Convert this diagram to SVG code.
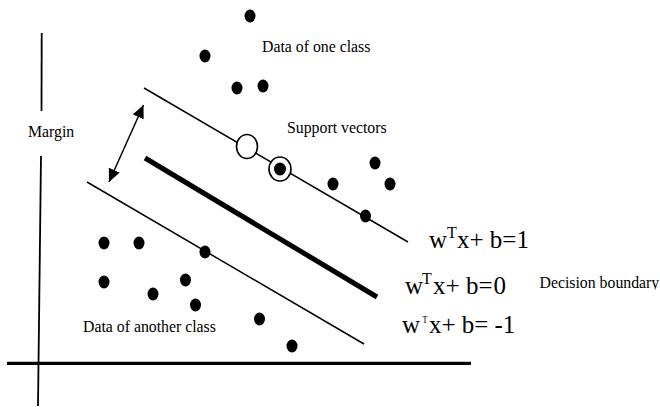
<svg xmlns="http://www.w3.org/2000/svg" width="660" height="407" viewBox="0 0 660 407">
<style>
  .lbl { font-family: "Liberation Serif", "Times New Roman", serif; font-size: 15.8px; fill: #000; }
  .eq { font-family: "Liberation Serif", "Times New Roman", serif; font-size: 25px; fill: #000; }
  .sup { font-family: "Liberation Serif", "Times New Roman", serif; font-size: 16px; fill: #000; }
  .thin { stroke: #000; stroke-width: 1.5; fill: none; }
  .dot { fill: #000; }
</style>
<defs>
  <marker id="ah" markerUnits="userSpaceOnUse" markerWidth="14" markerHeight="12" refX="13" refY="6" orient="auto-start-reverse">
    <path d="M0,0 L13,6 L0,12 z" fill="#000"/>
  </marker>
  <clipPath id="clipDB"><rect x="530" y="270" width="130" height="19.5"/></clipPath>
</defs>

<g id="axes">
  <line x1="41.7" y1="33" x2="41.5" y2="111" stroke="#000" stroke-width="1.8"/>
  <line x1="41" y1="156" x2="38" y2="406" stroke="#000" stroke-width="1.8"/>
  <line x1="7" y1="363.3" x2="471" y2="363.3" stroke="#000" stroke-width="3.3"/>
</g>

<g id="connectors">
  <line id="margin-plus" class="thin" x1="144" y1="88" x2="408" y2="242"/>
  <line id="boundary" x1="145" y1="158" x2="377" y2="297" stroke="#000" stroke-width="5"/>
  <line id="margin-minus" class="thin" x1="87" y1="182" x2="364" y2="344"/>
  <line id="margin-arrow" class="thin" x1="109" y1="182" x2="143.5" y2="105" marker-start="url(#ah)" marker-end="url(#ah)"/>
</g>

<g id="class-one">
  <ellipse class="dot" cx="250" cy="16" rx="5.5" ry="6.5"/>
  <ellipse class="dot" cx="205" cy="56" rx="5.5" ry="6.5"/>
  <ellipse class="dot" cx="237" cy="88" rx="5.5" ry="6.5"/>
  <ellipse class="dot" cx="263" cy="86" rx="5.5" ry="6.5"/>
  <ellipse class="dot" cx="375" cy="163" rx="5.5" ry="6.5"/>
  <ellipse class="dot" cx="333" cy="184" rx="5.5" ry="6.5"/>
  <ellipse class="dot" cx="390" cy="184" rx="5.5" ry="6.5"/>
  <ellipse class="dot" cx="365.5" cy="216" rx="5.5" ry="6.5"/>
</g>

<g id="support-vectors">
  <ellipse cx="247" cy="146.5" rx="10.5" ry="12" fill="#fff" stroke="#000" stroke-width="1.6"/>
  <ellipse cx="280" cy="169" rx="11" ry="12" fill="#fff" stroke="#000" stroke-width="1.6"/>
  <ellipse class="dot" cx="280" cy="169" rx="6" ry="6.5"/>
</g>

<g id="class-two">
  <ellipse class="dot" cx="104" cy="243" rx="5.5" ry="6.5"/>
  <ellipse class="dot" cx="139" cy="243" rx="5.5" ry="6.5"/>
  <ellipse class="dot" cx="205" cy="252" rx="5.5" ry="6.5"/>
  <ellipse class="dot" cx="104" cy="282" rx="5.5" ry="6.5"/>
  <ellipse class="dot" cx="185.5" cy="280" rx="5.5" ry="6.5"/>
  <ellipse class="dot" cx="153" cy="294" rx="5.5" ry="6.5"/>
  <ellipse class="dot" cx="195.5" cy="305" rx="5.5" ry="6.5"/>
  <ellipse class="dot" cx="259.5" cy="319" rx="5.5" ry="6.5"/>
  <ellipse class="dot" cx="292" cy="346" rx="5.5" ry="6.5"/>
</g>

<g id="labels">
  <text class="lbl" x="262" y="52">Data of one class</text>
  <text class="lbl" x="28" y="137">Margin</text>
  <text class="lbl" x="287" y="133">Support vectors</text>
  <text class="lbl" x="83" y="331.5">Data of another class</text>
  <text class="lbl" x="539.5" y="287.5" clip-path="url(#clipDB)">Decision boundary</text>
</g>

<g id="eq-plus">
  <text class="eq" x="429" y="247.5">w</text>
  <text class="sup" x="447" y="238">T</text>
  <text class="eq" x="457" y="247.5">x+ b=1</text>
</g>
<g id="eq-zero">
  <text class="eq" x="405" y="293.5">w</text>
  <text class="sup" x="422" y="284.3">T</text>
  <text class="eq" x="433" y="293.5">x+ <tspan x="466">b=</tspan><tspan x="493.5">0</tspan></text>
</g>
<g id="eq-minus">
  <text class="eq" x="402" y="332.5">w</text>
  <text class="sup" transform="translate(422.6,323.3) scale(0.5,0.62)" x="0" y="0">T</text>
  <text class="eq" x="429" y="332.5">x+ b= <tspan x="494.5">-1</tspan></text>
</g>
</svg>
